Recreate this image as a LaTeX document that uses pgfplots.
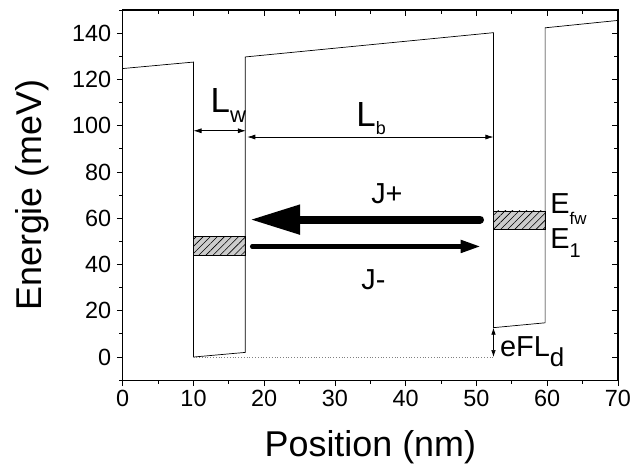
\documentclass[border=0pt]{standalone}
\usepackage{fontspec}
\setmainfont{Liberation Sans}
\usepackage{pgfplots}
\pgfplotsset{compat=1.18}
\usetikzlibrary{arrows.meta,patterns.meta}
\newcommand\sub[3]{\raisebox{-#2}{\fontsize{#1}{#1}\selectfont #3}}
\begin{document}
\begin{tikzpicture}
\pgfplotsset{
  common/.style={
    scale only axis, width=495bp, height=370bp,
    xmin=0, xmax=70, ymin=-10, ymax=150,
    xtick={0,10,...,70}, ytick={0,20,...,140},
    minor xtick={5,15,...,65}, minor ytick={-10,10,...,150},
    major tick length=6bp, minor tick length=3.5bp,
    axis line style={line width=1.1bp},
    every tick/.style={black, line width=0.9bp},
    /pgf/number format/assume math mode=true,
    tick label style={font=\fontsize{23.5}{24}\selectfont},
  }
}
\begin{axis}[common, name=ax, tick pos=left, tick align=outside,
  xlabel={Position (nm)}, ylabel={Energie (meV)},
  label style={font=\fontsize{36}{40}\selectfont},
  xlabel style={at={(axis description cs:0.5,-0.205)}, anchor=base},
  ylabel style={at={(axis description cs:-0.1636,0.5)}, anchor=base},
  yticklabel style={xshift=-2bp},
  clip=false]
% hatched levels
\addplot[draw=black, line width=0.6bp, fill=gray!40, mark=none,
  postaction={pattern={Lines[angle=45,distance=5bp,line width=0.6bp]}}]
  coordinates {(10,43.8) (17.3,43.8) (17.3,52.2) (10,52.2) (10,43.8)};
\addplot[draw=black, line width=0.6bp, fill=gray!40, mark=none,
  postaction={pattern={Lines[angle=45,distance=5bp,line width=0.6bp]}}]
  coordinates {(52.4,55.1) (59.7,55.1) (59.7,63.2) (52.4,63.2) (52.4,55.1)};
% band profile
\addplot[black, line width=0.7bp, mark=none] coordinates {
  (0,124.7) (10,127.5) (10,0) (17.3,2.0) (17.3,129.7) (52.4,140.2)
  (52.4,12.7) (59.7,14.8) (59.7,142.3) (70,145.5)};
% dotted reference
\addplot[gray, dotted, line width=0.8bp, mark=none] coordinates {(10,0) (52.4,0)};
% L_w and L_b arrows
\addplot[black, line width=0.7bp, mark=none, {Latex[length=8bp,width=5bp]}-{Latex[length=8bp,width=5bp]}]
  coordinates {(10,97.8) (17.4,97.8)};
\addplot[black, line width=0.7bp, mark=none, {Latex[length=8bp,width=5bp]}-{Latex[length=8bp,width=5bp]}]
  coordinates {(17.6,95.1) (52.4,95.1)};
% eFL_d arrow
\addplot[black, line width=0.7bp, mark=none, {Latex[length=7bp,width=4.5bp]}-{Latex[length=7bp,width=4.5bp]}]
  coordinates {(52.4,0) (52.4,12.7)};
% J+ and J- arrows
\addplot[black, line width=8bp, line cap=round, mark=none, -{Triangle[length=50bp,width=28bp]}]
  coordinates {(50.5,59.4) (18.0,59.4)};
\addplot[black, line width=4.5bp, line cap=round, mark=none, -{Triangle[length=20bp,width=12bp]}]
  coordinates {(18.3,47.8) (50.6,47.8)};
% labels
\node[anchor=base west, inner sep=0, font=\fontsize{35}{35}\selectfont] at (axis cs:12.4,105.5) {L\sub{22}{10bp}{w}};
\node[anchor=base west, inner sep=0, font=\fontsize{35}{35}\selectfont] at (axis cs:33.0,99.7) {L\sub{18}{8.3bp}{b}};
\node[anchor=base west, inner sep=0, font=\fontsize{29}{29}\selectfont] at (axis cs:35.1,66.4) {J+};
\node[anchor=base west, inner sep=0, font=\fontsize{29}{29}\selectfont] at (axis cs:33.7,29.4) {J-};
\node[anchor=base west, inner sep=0, font=\fontsize{29}{29}\selectfont] at (axis cs:60.4,62.0) {E\sub{17}{11bp}{fw}};
\node[anchor=base west, inner sep=0, font=\fontsize{29}{29}\selectfont] at (axis cs:60.4,46.8) {E\sub{20}{8.3bp}{1}};
\node[anchor=base west, inner sep=0, font=\fontsize{29}{29}\selectfont] at (axis cs:53.3,0.4) {eFL\sub{26}{10bp}{d}};
\end{axis}
\begin{axis}[common, tick pos=right, tick align=inside,
  xticklabels={}, yticklabels={}]
\end{axis}
\pgfresetboundingbox
\path[use as bounding box] ([shift={(-122.7bp,-88bp)}]ax.south west) rectangle ([shift={(15bp,10bp)}]ax.north east);
\end{tikzpicture}
\end{document}
